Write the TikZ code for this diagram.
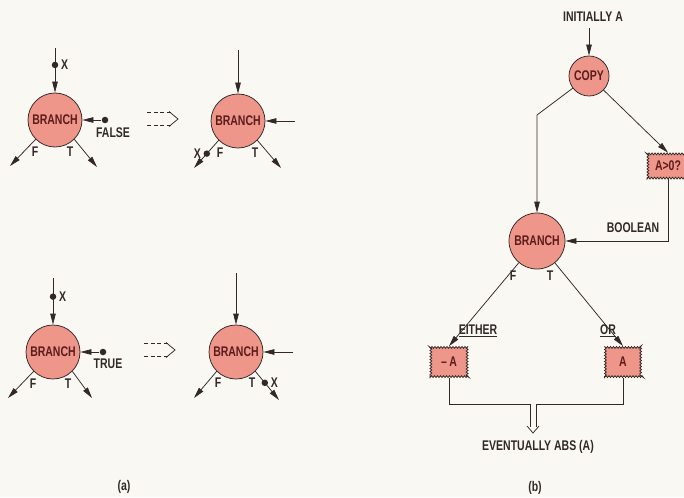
\documentclass[tikz,border=0pt]{standalone}
\usepackage{fontspec}
\setmainfont{Liberation Sans}[FakeStretch=0.75]
\usetikzlibrary{arrows.meta,decorations.pathmorphing}
\definecolor{salmon}{RGB}{238,150,138}
\definecolor{ink}{RGB}{50,40,40}
\definecolor{maroon}{RGB}{92,28,28}
\definecolor{paper}{RGB}{250,248,242}
\begin{document}
\begin{tikzpicture}[x=1pt,y=-1pt,line width=0.75pt,color=ink,label distance=2pt,
  every node/.style={font=\fontsize{14}{15}\selectfont\bfseries,text=ink,inner sep=0pt},
  brnode/.style={circle,draw=ink,fill=salmon,text=maroon,minimum size=54pt},
  cloudbox/.style={rectangle,draw=ink,fill=salmon,text=maroon,decorate,decoration={bumps,segment length=6pt,amplitude=1.8pt}},
  arr/.style={-{Triangle[length=11pt,width=5.5pt]}},
  xdot/.style={circle,fill=ink,minimum size=6.5pt}]
\clip (0,0) rectangle (684,497);
\fill[paper] (0,0) rectangle (684,497);
% (a) branch on FALSE
\node[brnode] (br1) at (55,120) {BRANCH};
\coordinate (br1in) at (55,48); \coordinate (br1F) at (10,166); \coordinate (br1T) at (97,167);
\node[xdot] (br1b) at (105,120) {}; \node (br1bl) at (113,133) {FALSE};
\draw[arr] (br1in) -- node[xdot,pos=0.38,label=right:X] (br1x) {} (br1);
\draw[arr] (br1b) -- (br1);
\draw[arr] (br1.-135) -- (br1F); \draw[arr] (br1.-45) -- (br1T);
\node (br1f) at (35,152) {F}; \node (br1t) at (70,152) {T};
\node[brnode] (br2) at (238,121) {BRANCH};
\coordinate (br2in) at (238,50); \coordinate (br2b) at (295,121);
\coordinate (br2F) at (194,168); \coordinate (br2T) at (281,168);
\draw[arr] (br2in) -- (br2); \draw[arr] (br2b) -- (br2);
\draw[arr] (br2.-135) -- node[xdot,pos=0.48,label=left:X] (br2x) {} (br2F);
\draw[arr] (br2.-45) -- (br2T);
\node (br2f) at (220,153) {F}; \node (br2t) at (255,153) {T};
% (a) branch on TRUE
\node[brnode] (br3) at (53,352) {BRANCH};
\coordinate (br3in) at (53,278); \coordinate (br3F) at (8,398); \coordinate (br3T) at (92,398);
\node[xdot] (br3b) at (103,352) {}; \node (br3bl) at (108,364) {TRUE};
\draw[arr] (br3in) -- node[xdot,pos=0.4,label=right:X] (br3x) {} (br3);
\draw[arr] (br3b) -- (br3);
\draw[arr] (br3.-135) -- (br3F); \draw[arr] (br3.-45) -- (br3T);
\node (br3f) at (33,384) {F}; \node (br3t) at (68,384) {T};
\node[brnode] (br4) at (236,352) {BRANCH};
\coordinate (br4in) at (236,273); \coordinate (br4b) at (293,352);
\coordinate (br4F) at (194,398); \coordinate (br4T) at (279,400);
\draw[arr] (br4in) -- (br4); \draw[arr] (br4b) -- (br4);
\draw[arr] (br4.-135) -- (br4F);
\draw[arr] (br4.-45) -- node[xdot,pos=0.4,label=right:X] (br4x) {} (br4T);
\node (br4f) at (218,383) {F}; \node (br4t) at (252,383) {T};
% dashed "becomes" arrows
\foreach \tx/\ty in {178/119,175/350} {
  \draw[dash pattern=on 4pt off 2.5pt] (\tx-31,\ty-6.5) -- (\tx-7,\ty-6.5) (\tx-31,\ty+6.5) -- (\tx-7,\ty+6.5);
  \draw (\tx-9,\ty-7.5) -- (\tx,\ty) -- (\tx-9,\ty+7.5);
}
\node (capa) at (124,487) {(a)};
% (b) absolute value
\node (init) at (593,17) {INITIALLY A};
\node[brnode,minimum size=40pt] (copy) at (589,76) {COPY};
\draw[arr,shorten <=6pt] (copy.north |- init.south) -- (copy);
\node[cloudbox,minimum width=42pt,minimum height=26pt] (test) at (668,166) {A>0?};
\node[brnode,minimum size=56pt] (brb) at (537,241) {BRANCH};
\coordinate (cbend) at (537,115);
\draw[arr] (copy) -- (cbend) -- (brb);
\draw[arr] (copy) -- (test.north);
\draw[arr] (test) |- (brb);
\node (bool) at (633,228) {BOOLEAN};
\node[cloudbox,minimum width=38pt,minimum height=31pt] (neg) at (449,362) {--\,A};
\node[cloudbox,minimum width=37pt,minimum height=31pt] (pos) at (623,362) {A};
\draw[arr] (brb) -- (neg.north); \draw[arr] (brb) -- (pos.north);
\node (brbf) at (513,276) {F}; \node (brbt) at (550,276) {T};
\node (either) at (478,331) {\underline{EITHER}};
\node (or) at (608,331) {\underline{OR}};
\coordinate (mL) at (530,404); \coordinate (mR) at (536,404);
\coordinate (mLd) at (530,427); \coordinate (mRd) at (536,427);
\coordinate (mtip) at (533,433);
\draw (neg) |- (mL) -- (mLd);
\draw (pos) |- (mR) -- (mRd);
\draw ([shift={(-6,-7)}]mtip) -- (mtip) -- ([shift={(6,-7)}]mtip);
\node (eventual) at (538,447) {EVENTUALLY ABS (A)};
\node (capb) at (535,488) {(b)};
\end{tikzpicture}
\end{document}
